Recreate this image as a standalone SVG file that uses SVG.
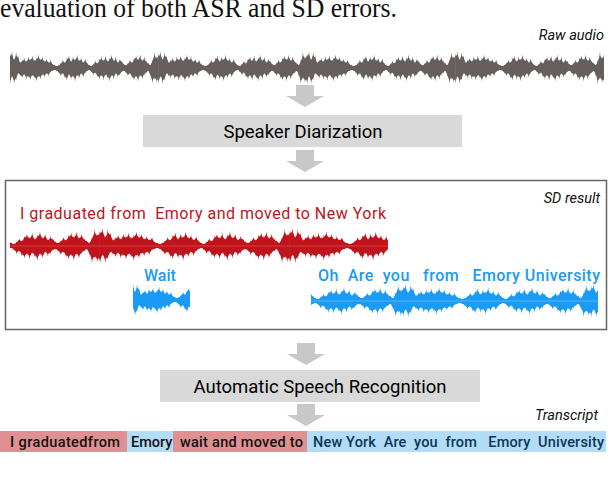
<svg xmlns="http://www.w3.org/2000/svg" xmlns:xlink="http://www.w3.org/1999/xlink" width="608" height="484" viewBox="0 0 608 484">
<style>
.sans{font-family:Roboto,"Liberation Sans",Arial,sans-serif}
.cap{font-family:Roboto,"Liberation Sans",Arial,sans-serif;font-style:italic;font-size:14.5px;fill:#111;text-anchor:end}
.box{fill:#d9d9d9}
.boxt{font-family:Roboto,"Liberation Sans",Arial,sans-serif;font-size:18.5px;fill:#000;text-anchor:middle}
.arrow{fill:#c8c8c8}
.red{fill:#c0141c}
.blue{fill:#1a9bf5}
.tr{font-family:Roboto,"Liberation Sans",Arial,sans-serif;font-size:14.5px;font-weight:500}
</style>
<defs>
<g id="wave">
<path transform="scale(1,0.8)" d="M0 -14 L2 -16 4 -9 6 -15 8 -12 10 -6 12 -8 14 -10 16 -7 18 -11 20 -9 22 -12 24 -8 26 -10 28 -13 30 -9 32 -11 34 -7 36 -9 38 -6 40 -8 42 -4 44 -3 46 -2 48 -3 50 -5 52 -8 54 -6 56 -10 58 -12 60 -7 62 -11 64 -9 66 -13 68 -8 70 -10 72 -6 74 -9 76 -5 78 -3 80 -2 82 -4 84 -7 86 -5 88 -9 90 -11 92 -8 94 -12 96 -7 98 -10 100 -13 102 -8 104 -11 106 -6 108 -9 110 -7 112 -4 114 -3 116 -5 118 -8 120 -6 122 -10 124 -12 126 -9 128 -13 130 -8 132 -11 134 -7 136 -5 138 -3 140 -8 142 -15 144 -11 146 -14 L146 14 144 14 142 11 140 15 138 8 136 3 134 5 132 7 130 11 128 8 126 13 124 9 122 12 120 10 118 6 116 8 114 5 112 3 110 4 108 7 106 9 104 6 102 11 100 8 98 13 96 10 94 7 92 12 90 8 88 11 86 9 84 5 82 7 80 4 78 2 76 3 74 5 72 9 70 6 68 10 66 8 64 13 62 9 60 11 58 7 56 12 54 10 52 6 50 8 48 5 46 3 44 2 42 3 40 4 38 8 36 6 34 9 32 7 30 11 28 9 26 13 24 10 22 8 20 12 18 9 16 11 14 7 12 10 10 8 8 6 6 12 4 15 2 9 0 16 Z"/>
<path d="M0 -14 L1 -8 2 -16 3 -5 4 -9 5 -5 6 -15 7 -7 8 -12 9 -3 10 -6 11 -3 12 -8 13 -4 14 -10 15 -4 16 -7 17 -4 18 -11 19 -5 20 -9 21 -5 22 -12 23 -4 24 -8 25 -4 26 -10 27 -6 28 -13 29 -5 30 -9 31 -5 32 -11 33 -4 34 -7 35 -4 36 -9 37 -3 38 -6 39 -3 40 -8 41 -2 42 -4 43 -2 44 -3 45 -1 46 -2 47 -1 48 -3 49 -2 50 -5 51 -3 52 -8 53 -3 54 -6 55 -3 56 -10 57 -6 58 -12 59 -4 60 -7 61 -4 62 -11 63 -5 64 -9 65 -5 66 -13 67 -4 68 -8 69 -4 70 -10 71 -3 72 -6 73 -3 74 -9 75 -3 76 -5 77 -2 78 -3 79 -1 80 -2 81 -1 82 -4 83 -2 84 -7 85 -3 86 -5 87 -3 88 -9 89 -5 90 -11 91 -4 92 -8 93 -4 94 -12 95 -4 96 -7 97 -4 98 -10 99 -6 100 -13 101 -4 102 -8 103 -4 104 -11 105 -3 106 -6 107 -3 108 -9 109 -4 110 -7 111 -2 112 -4 113 -2 114 -3 115 -2 116 -5 117 -3 118 -8 119 -3 120 -6 121 -3 122 -10 123 -6 124 -12 125 -5 126 -9 127 -5 128 -13 129 -4 130 -8 131 -4 132 -11 133 -4 134 -7 135 -3 136 -5 137 -2 138 -3 139 -2 140 -8 141 -4 142 -15 143 -6 144 -11 145 -6 146 -14 L146 14 145 8 144 14 143 6 142 11 141 6 140 15 139 4 138 8 137 2 136 3 135 2 134 5 133 3 132 7 131 4 130 11 129 4 128 8 127 4 126 13 125 5 124 9 123 5 122 12 121 6 120 10 119 3 118 6 117 3 116 8 115 3 114 5 113 2 112 3 111 2 110 4 109 2 108 7 107 4 106 9 105 3 104 6 103 3 102 11 101 4 100 8 99 4 98 13 97 6 96 10 95 4 94 7 93 4 92 12 91 4 90 8 89 4 88 11 87 5 86 9 85 3 84 5 83 3 82 7 81 2 80 4 79 1 78 2 77 1 76 3 75 2 74 5 73 3 72 9 71 3 70 6 69 3 68 10 67 4 66 8 65 4 64 13 63 5 62 9 61 5 60 11 59 4 58 7 57 4 56 12 55 6 54 10 53 3 52 6 51 3 50 8 49 3 48 5 47 2 46 3 45 1 44 2 43 1 42 3 41 2 40 4 39 2 38 8 37 3 36 6 35 3 34 9 33 4 32 7 31 4 30 11 29 5 28 9 27 5 26 13 25 6 24 10 23 4 22 8 21 4 20 12 19 5 18 9 17 5 16 11 15 4 14 7 13 4 12 10 11 4 10 8 9 3 8 6 7 3 6 12 5 7 4 15 3 5 2 9 1 5 0 16 Z"/>
</g>
<path id="arrow" d="M-9 0 H9 V11 H19 L0 22 L-19 11 H-9 Z"/>
<clipPath id="cRaw"><rect x="10" y="40" width="594" height="60"/></clipPath>
<clipPath id="cRed"><rect x="10" y="222" width="378" height="50"/></clipPath>
<clipPath id="cWait"><rect x="133" y="280" width="57" height="42"/></clipPath>
<clipPath id="cBlue"><rect x="311" y="280" width="287" height="42"/></clipPath>
</defs>

<text x="0" y="17" font-family="'Liberation Serif','Times New Roman',serif" font-size="27" fill="#111" textLength="397" lengthAdjust="spacingAndGlyphs">evaluation of both ASR and SD errors.</text>

<g id="raw-audio">
<text class="cap" x="604" y="40">Raw audio</text>
<g clip-path="url(#cRaw)" fill="#675f5d">
<use xlink:href="#wave" transform="translate(10,68) scale(1.017,1.06)"/>
<use xlink:href="#wave" transform="translate(158.5,68) scale(1.017,1.06)"/>
<use xlink:href="#wave" transform="translate(307,68) scale(1.017,1.06)"/>
<use xlink:href="#wave" transform="translate(455.5,68) scale(1.017,1.06)"/>
</g>
</g>

<g id="speaker-diarization">
<rect class="box" x="143" y="115" width="319" height="32"/>
<text class="boxt" x="303" y="138">Speaker Diarization</text>
</g>

<g id="sd-result">
<rect x="5.5" y="180.5" width="601" height="149" fill="none" stroke="#666" stroke-width="1.5"/>
<text class="cap" x="600" y="203">SD result</text>
<text class="sans" x="20" y="219" font-size="16" fill="#c0141c" xml:space="preserve" textLength="366" lengthAdjust="spacing">I graduated from  Emory and moved to New York</text>
<g clip-path="url(#cRed)" class="red">
<use xlink:href="#wave" transform="translate(-90,246) scale(1.3,1.125)"/>
<use xlink:href="#wave" transform="translate(100,246) scale(1.3,1.125)"/>
<use xlink:href="#wave" transform="translate(290,246) scale(1.3,1.125)"/>
<rect x="10" y="245.5" width="378" height="1" fill="#e05a5a" opacity="0.6"/>
</g>
<text class="sans" x="144" y="281" font-size="16" font-weight="500" fill="#1a9bf5">Wait</text>
<g clip-path="url(#cWait)" class="blue">
<use xlink:href="#wave" transform="translate(131,300) scale(1,1.06)"/>
</g>
<text class="sans" x="318" y="281" font-size="16" font-weight="500" fill="#1a9bf5" xml:space="preserve" textLength="282" lengthAdjust="spacing">Oh  Are  you   from   Emory University</text>
<g clip-path="url(#cBlue)" class="blue">
<use xlink:href="#wave" transform="translate(215,301) scale(1.29,1.06)"/>
<use xlink:href="#wave" transform="translate(403,301) scale(1.29,1.06)"/>
<use xlink:href="#wave" transform="translate(591,301) scale(1.29,1.06)"/>
<rect x="311" y="300.5" width="287" height="1" fill="#7cc4f8" opacity="0.6"/>
</g>
</g>

<g id="asr">
<rect class="box" x="160" y="370" width="320" height="32"/>
<text class="boxt" x="320" y="393">Automatic Speech Recognition</text>
</g>

<g id="transcript">
<text class="cap" x="598" y="420">Transcript</text>
<rect x="0" y="431" width="127" height="21" fill="#e09090"/>
<rect x="127" y="431" width="46" height="21" fill="#b3dcf7"/>
<rect x="173" y="431" width="134" height="21" fill="#e09090"/>
<rect x="307" y="431" width="299" height="21" fill="#b3dcf7"/>
<text class="tr" x="10" y="447" fill="#111" textLength="110" lengthAdjust="spacing">I graduatedfrom</text>
<text class="tr" x="131" y="447" fill="#111">Emory</text>
<text class="tr" x="180" y="447" fill="#111" textLength="123" lengthAdjust="spacing">wait and moved to</text>
<text class="tr" x="313" y="447" fill="#0d3658" xml:space="preserve" textLength="291" lengthAdjust="spacing">New York  Are  you  from   Emory  University</text>
</g>

<g id="connectors">
<use class="arrow" xlink:href="#arrow" transform="translate(305,85)"/>
<use class="arrow" xlink:href="#arrow" transform="translate(305,150)"/>
<use class="arrow" xlink:href="#arrow" transform="translate(306,343)"/>
<use class="arrow" xlink:href="#arrow" transform="translate(306,404)"/>
</g>
</svg>
